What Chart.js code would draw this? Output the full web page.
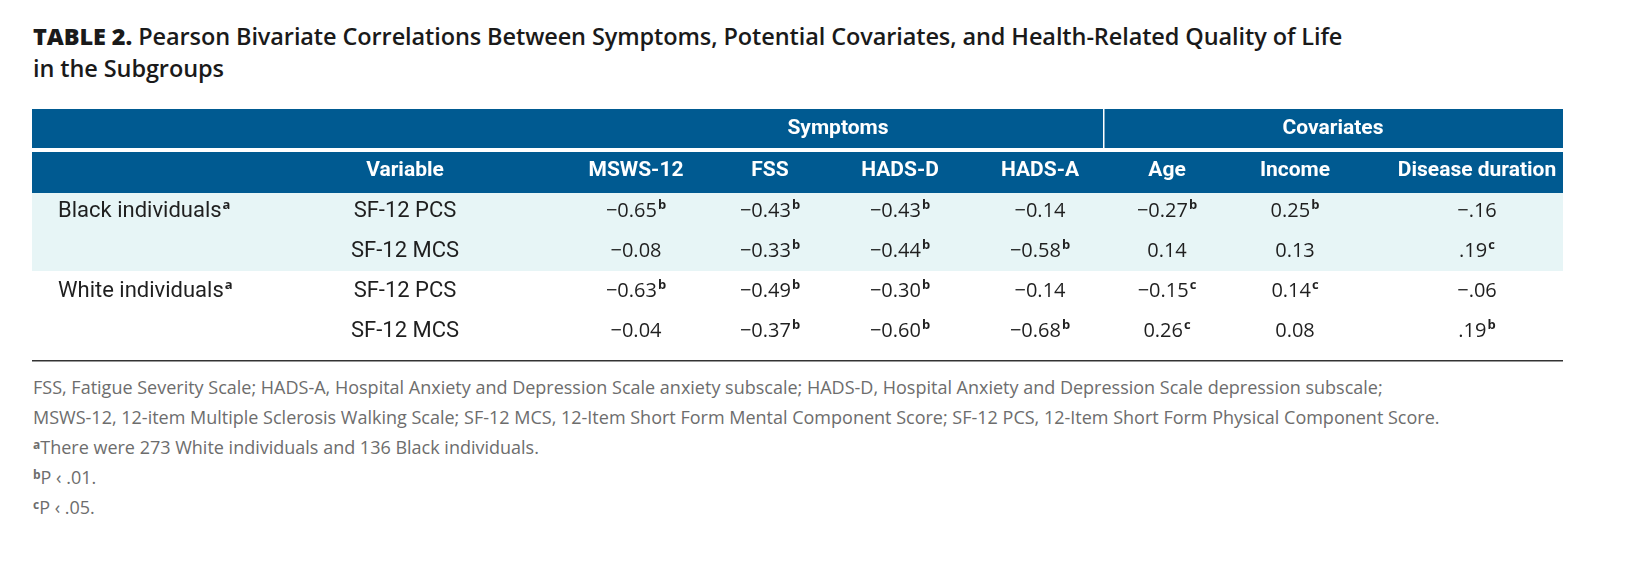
<!DOCTYPE html>
<html><head><meta charset="utf-8">
<script src="https://cdn.jsdelivr.net/npm/chart.js@4/dist/chart.umd.min.js"></script>
<style>
  body { margin:0; width:1630px; height:572px; background:#fff; position:relative; font-family:'Open Sans', sans-serif; }
  #title { position:absolute; left:33px; top:20px; font-size:23.5px; font-weight:600; color:#1a1a1a; line-height:32px; font-family:'Open Sans',sans-serif; letter-spacing:-0.1px; }
  #title b { font-weight:800; }
  #wrap { position:absolute; left:32px; top:109px; width:1531px; height:255px; }
  #notes { position:absolute; left:33px; top:372px; font-size:18px; color:#6d6d6d; line-height:30px; }
  #notes sup { font-size:12px; font-weight:700; vertical-align:5px; line-height:0; }
</style></head><body>
<div id="title"><b>TABLE 2.</b> Pearson Bivariate Correlations Between Symptoms, Potential Covariates, and Health-Related Quality of Life<br>in the Subgroups</div>
<div id="wrap"><canvas id="tbl"></canvas></div>
<div id="notes">
FSS, Fatigue Severity Scale; HADS-A, Hospital Anxiety and Depression Scale anxiety subscale; HADS-D, Hospital Anxiety and Depression Scale depression subscale;<br>
MSWS-12, 12-item Multiple Sclerosis Walking Scale; SF-12 MCS, 12-Item Short Form Mental Component Score; SF-12 PCS, 12-Item Short Form Physical Component Score.<br>
<sup>a</sup>There were 273 White individuals and 136 Black individuals.<br>
<sup>b</sup>P ‹ .01.<br>
<sup>c</sup>P ‹ .05.
</div>
<script>
// data
const groups = ['Black individuals', '', 'White individuals', ''];
const variables = ['SF-12 PCS', 'SF-12 MCS', 'SF-12 PCS', 'SF-12 MCS'];
const columns = ['MSWS-12', 'FSS', 'HADS-D', 'HADS-A', 'Age', 'Income', 'Disease duration'];
const spanners = [['Symptoms', 0, 3], ['Covariates', 4, 6]];
const values = [
  ['−0.65', '−0.43', '−0.43', '−0.14', '−0.27', '0.25', '−.16'],
  ['−0.08', '−0.33', '−0.44', '−0.58', '0.14', '0.13', '.19'],
  ['−0.63', '−0.49', '−0.30', '−0.14', '−0.15', '0.14', '−.06'],
  ['−0.04', '−0.37', '−0.60', '−0.68', '0.26', '0.08', '.19']
];
const marks = [
  ['b', 'b', 'b', '', 'b', 'b', ''],
  ['', 'b', 'b', 'b', '', '', 'c'],
  ['b', 'b', 'b', '', 'c', 'c', ''],
  ['', 'b', 'b', 'b', 'c', '', 'b']
];

// layout (x in px inside the table box)
const groupX = 26;
const varX = 373;
const colX = [604, 738, 868, 1008, 1135, 1263, 1445];
const BLUE = '#005a91', TEAL = '#e7f5f6', TXT = '#1f1f1f';
const NUM = "20px 'Open Sans', sans-serif";
const SUP = "bold 13px 'Open Sans', sans-serif";
const LAB = "22px 'Liberation Sans Narrow', 'Roboto', sans-serif";
const HDR = "bold 21px 'Liberation Sans Narrow', 'Roboto', sans-serif";

function textSup(ctx, s, sup, x, y) {
  ctx.font = NUM;
  const w = ctx.measureText(s).width;
  ctx.font = SUP;
  const ws = sup ? ctx.measureText(sup).width + 1 : 0;
  const left = x - (w + ws) / 2;
  ctx.textAlign = 'left';
  ctx.font = NUM; ctx.fillText(s, left, y);
  if (sup) { ctx.font = SUP; ctx.fillText(sup, left + w + 1, y - 6); }
}

const tablePlugin = {
  id: 'tablePlugin',
  beforeDraw(chart) {
    const { ctx, chartArea: a, scales: { x, y } } = chart;
    const W = chart.width;
    ctx.save();
    // header bands
    ctx.fillStyle = BLUE;
    ctx.fillRect(0, 0, W, 39);
    ctx.fillRect(0, 43, W, a.top + 2 - 43);
    const divX = x.getPixelForValue(1071);
    ctx.fillStyle = '#fff';
    ctx.fillRect(divX, 0, 1.5, 43);
    // teal band for first group
    ctx.fillStyle = TEAL;
    const rTop = a.top + 2, rBot = (y.getPixelForValue(1) + y.getPixelForValue(2)) / 2;
    ctx.fillRect(0, rTop, W, rBot - rTop);
    // bottom rule
    ctx.fillStyle = '#333';
    ctx.fillRect(0, chart.height - 4, W, 1.5);

    ctx.textBaseline = 'middle';
    ctx.fillStyle = '#fff';
    ctx.font = HDR; ctx.textAlign = 'center';
    spanners.forEach(([t, i0]) => {
      const cx = i0 === 0 ? (x.getPixelForValue(colX[0]) + x.getPixelForValue(colX[3])) / 2 : (divX + W) / 2;
      ctx.fillText(t, cx, 20);
    });
    ctx.fillText('Variable', x.getPixelForValue(varX), 62);
    columns.forEach((c, i) => ctx.fillText(c, x.getPixelForValue(colX[i]), 62));

    // body
    ctx.fillStyle = TXT;
    variables.forEach((v, r) => {
      const py = y.getPixelForValue(r);
      if (groups[r]) {
        ctx.font = LAB; ctx.textAlign = 'left';
        const gx = x.getPixelForValue(groupX);
        ctx.fillText(groups[r], gx, py);
        const gw = ctx.measureText(groups[r]).width;
        ctx.font = SUP;
        ctx.fillText('a', gx + gw + 1, py - 6);
      }
      ctx.font = LAB; ctx.textAlign = 'center';
      ctx.fillText(v, x.getPixelForValue(varX), py);
      values[r].forEach((val, c) => textSup(ctx, val, marks[r][c], x.getPixelForValue(colX[c]), py));
    });
    ctx.restore();
  }
};

new Chart(document.getElementById('tbl'), {
  type: 'scatter',
  data: { datasets: [{ data: [], showLine: false }] },
  options: {
    responsive: true, maintainAspectRatio: false, animation: false,
    layout: { padding: { top: 82, bottom: 13, left: 0, right: 0 } },
    plugins: { legend: { display: false }, tooltip: { enabled: false } },
    scales: {
      x: { type: 'linear', min: 0, max: 1531, display: false },
      y: { type: 'category', labels: variables.map((v, i) => i), offset: true, display: false }
    }
  },
  plugins: [tablePlugin]
});
</script>
</body></html>
